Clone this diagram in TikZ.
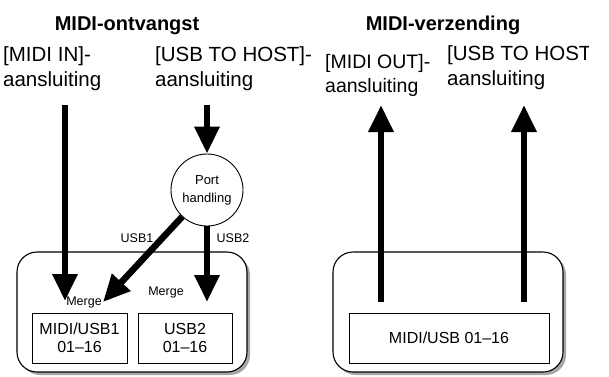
\documentclass[tikz,border=0pt]{standalone}
\usepackage{fontspec}
\setmainfont{Liberation Sans}
\usetikzlibrary{arrows.meta,shadows}

\begin{document}
\begin{tikzpicture}[
    x=1pt, y=-1pt,
    title/.style={font=\fontsize{20}{24}\selectfont\bfseries, anchor=base},
    jack/.style={font=\fontsize{20.5}{25}\selectfont, align=left, anchor=north west, inner sep=0pt},
    small/.style={font=\fontsize{12.5}{14}\selectfont, inner sep=0pt},
    unit/.style={draw, rounded corners=20pt, line width=1.1pt, fill=white,
        minimum width=230pt, minimum height=120pt,
        drop shadow={shadow xshift=3pt, shadow yshift=-3pt, fill=black!35, opacity=1}},
    part/.style={draw, line width=0.9pt, fill=white, minimum height=50pt, align=center,
        font=\fontsize{16}{18.5}\selectfont, inner sep=0pt},
    flow/.style={line width=6.5pt, -{Triangle[width=24pt,length=27pt]}}
]
\useasboundingbox (0,0) rectangle (609,376);

% Headings
\node[title] (recv) at (127,30) {MIDI-ontvangst};
\node[title] (send) at (443,30) {MIDI-verzending};

% Jacks
\node[jack] (midiin) at (3,46) {[MIDI IN]-\\aansluiting};
\node[jack] (hostin) at (155,46) {[USB TO HOST]-\\aansluiting};
\node[jack, font=\fontsize{19.5}{24}\selectfont] (midiout) at (325,54) {[MIDI OUT]-\\aansluiting};
\begin{scope}
    \clip (0,0) rectangle (588,376);
    \node[jack] (hostout) at (447,45) {[USB TO HOST]-\\aansluiting};
\end{scope}

% Receive side
\node[unit] (recvunit) at (132,312) {};
\node[part, minimum width=95pt] (part1) at (79.5,338) {MIDI/USB1\\01--16};
\node[part, minimum width=94pt] (part2) at (185,338) {USB2\\01--16};
\node[circle, draw, line width=0.9pt, minimum size=72pt, inner sep=0pt, align=center,
    font=\fontsize{13}{18}\selectfont] (port) at (207,190) {Port\\handling};

\node[small] (merge1) at (84,302) {Merge};
\node[small] (merge2) at (166,292) {Merge};
\node[small] (usb1) at (137,238) {USB1};
\node[small] (usb2) at (233,238) {USB2};

\coordinate (midisrc) at (65,105);
\coordinate (miditip) at (65,301);
\coordinate (hostsrc) at (207,105);
\coordinate (usb1tip) at (103,302);
\coordinate (usb2tip) at (207,302);

\draw[flow] (midisrc) -- (miditip);
\draw[flow] (hostsrc) -- (port.north);
\draw[flow] (port) -- (usb1tip);
\draw[flow] (port.south) -- (usb2tip);

% Send side
\node[unit] (sendunit) at (448,312) {};
\node[part, minimum width=200pt] (part3) at (449,338) {MIDI/USB 01--16};

\coordinate (outsrc1) at (381,302);
\coordinate (outtip1) at (381,105);
\coordinate (outsrc2) at (524,302);
\coordinate (outtip2) at (524,105);

\draw[flow] (outsrc1) -- (outtip1);
\draw[flow] (outsrc2) -- (outtip2);

\end{tikzpicture}
\end{document}
